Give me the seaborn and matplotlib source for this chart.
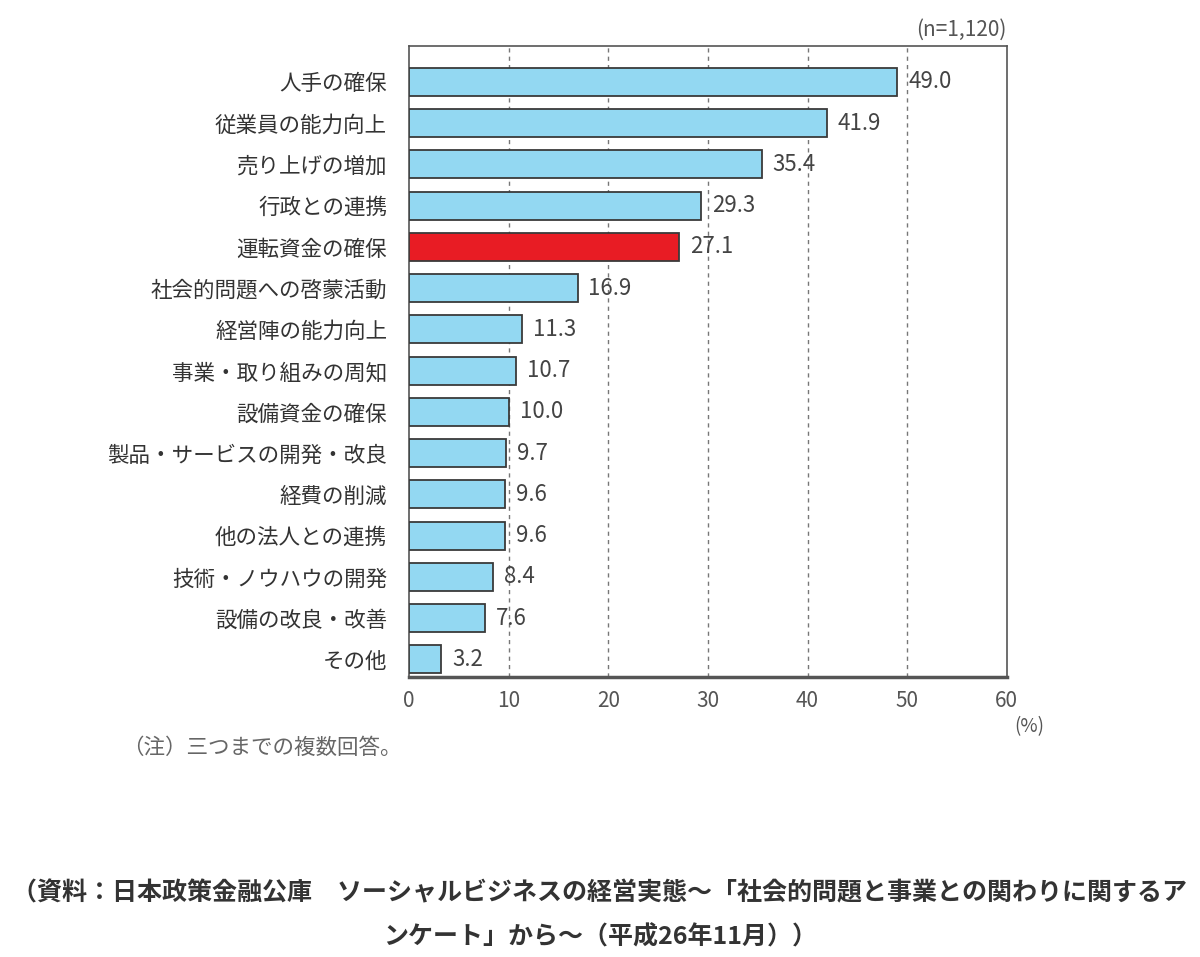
import matplotlib
matplotlib.use("Agg")
import matplotlib.pyplot as plt
import seaborn as sns
import pandas as pd

categories = ["人手の確保", "従業員の能力向上", "売り上げの増加", "行政との連携", "運転資金の確保",
              "社会的問題への啓蒙活動", "経営陣の能力向上", "事業・取り組みの周知", "設備資金の確保",
              "製品・サービスの開発・改良", "経費の削減", "他の法人との連携", "技術・ノウハウの開発",
              "設備の改良・改善", "その他"]
values = [49.0, 41.9, 35.4, 29.3, 27.1, 16.9, 11.3, 10.7, 10.0, 9.7, 9.6, 9.6, 8.4, 7.6, 3.2]
value_labels = ["49.0", "41.9", "35.4", "29.3", "27.1", "16.9", "11.3", "10.7", "10.0", "9.7",
                "9.6", "9.6", "8.4", "7.6", "3.2"]
highlight = "運転資金の確保"
xticks = [0, 10, 20, 30, 40, 50, 60]

sns.set_theme(style="white")
plt.rcParams['font.family'] = ['Noto Sans CJK JP', 'DejaVu Sans']

df = pd.DataFrame({"cat": categories, "val": values})
blue = "#93d8f2"
red = "#e81c24"
palette = {c: (red if c == highlight else blue) for c in categories}

fig = plt.figure(figsize=(12, 9.57), dpi=100)
ax = fig.add_axes([0.341, 0.293, 0.498, 0.659])

sns.barplot(data=df, y="cat", x="val", hue="cat", palette=palette, legend=False,
            orient="h", width=0.68, saturation=1, edgecolor="#3a3a3a", linewidth=1.3,
            ax=ax, zorder=3)

ax.set_xlim(0, 60)
ax.set_ylim(len(categories) - 1 + 0.42, -0.87)
ax.set_xticks(xticks)
ax.set_xticklabels([str(t) for t in xticks], color="#555555", fontsize=15)
for t in xticks[1:-1]:
    ax.axvline(t, color="#777777", linestyle=(0, (3, 3)), linewidth=1.0, zorder=1)
ax.set_xlabel("")
ax.set_ylabel("")
ax.tick_params(axis="y", labelsize=15.5, labelcolor="#333333", length=0, pad=16)
ax.tick_params(axis="x", length=0, pad=10)
for s in ax.spines.values():
    s.set_color("#555555")
    s.set_linewidth(1.2)
ax.spines["bottom"].set_linewidth(2.5)

for i, (v, lab) in enumerate(zip(values, value_labels)):
    ax.text(v + 1.1, i, lab, va="center", ha="left", fontsize=16, color="#444444", zorder=4)

fig.text(0.839, 0.957, "(n=1,120)", ha="right", va="bottom", fontsize=15, color="#555555")
fig.text(0.858, 0.241, "(%)", ha="center", va="center", fontsize=13.5, color="#555555")
fig.text(0.102, 0.218, "（注）三つまでの複数回答。", ha="left", va="center", fontsize=15.5, color="#666666")
fig.text(0.5, 0.067, "（資料：日本政策金融公庫　ソーシャルビジネスの経営実態～「社会的問題と事業との関わりに関するア",
         ha="center", va="center", fontsize=18, fontweight="bold", color="#333333")
fig.text(0.5, 0.021, "ンケート」から～（平成26年11月））",
         ha="center", va="center", fontsize=18, fontweight="bold", color="#333333")

fig.savefig("out.png", dpi=100, facecolor="white")
